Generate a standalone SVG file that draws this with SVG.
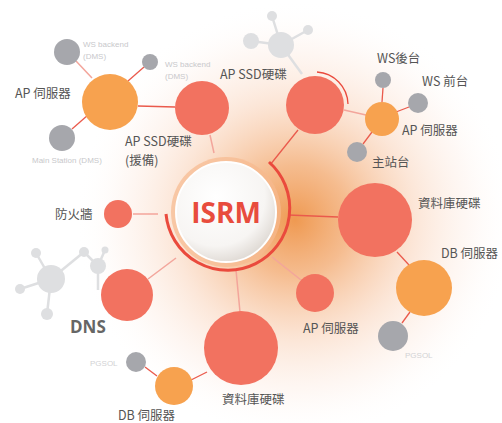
<svg xmlns="http://www.w3.org/2000/svg" width="502" height="423" viewBox="0 0 502 423">
<defs>
<radialGradient id="glow" cx="295" cy="220" r="220" gradientUnits="userSpaceOnUse">
<stop offset="0" stop-color="#ee9448" stop-opacity="0.95"/>
<stop offset="0.25" stop-color="#f2a66a" stop-opacity="0.75"/>
<stop offset="0.55" stop-color="#f8c8a8" stop-opacity="0.45"/>
<stop offset="0.8" stop-color="#fce6da" stop-opacity="0.25"/>
<stop offset="1" stop-color="#ffffff" stop-opacity="0"/>
</radialGradient>
<radialGradient id="core" cx="0.4" cy="0.35" r="0.7">
<stop offset="0" stop-color="#ffffff"/>
<stop offset="0.7" stop-color="#f7f5f3"/>
<stop offset="1" stop-color="#dcd6d0"/>
</radialGradient>
<style>
.red{fill:#f27260}
.org{fill:#f7a24f}
.gry{fill:#a6a7ac}
.ghost{fill:#dedfe1}
.ln{stroke:#ea5a4c;stroke-width:1.3;fill:none}
.lnl{stroke:#f3a59b;stroke-width:1.5;fill:none}
.lng{stroke:#dedfe1;stroke-width:2.5;fill:none}
.t{font-family:"Noto Sans CJK TC","Noto Sans",sans-serif;fill:#555;font-size:12.5px}
.tb{font-family:"Open Sans","Noto Sans",sans-serif;fill:#666;font-size:17px;font-weight:bold}
.ts{font-family:"Liberation Sans",sans-serif;fill:#c8c8cb;font-size:8px}
.tf{font-family:"Liberation Sans",sans-serif;fill:#d2d2d4;font-size:8px}
</style>
</defs>
<rect width="502" height="423" fill="#ffffff"/>
<circle cx="295" cy="220" r="220" fill="url(#glow)"/>

<g id="connectors">
<line class="lng" x1="281" y1="45" x2="302" y2="74"/>
<line class="lng" x1="281" y1="45" x2="272" y2="16"/>
<line class="lng" x1="281" y1="45" x2="308" y2="30"/>
<line class="lng" x1="281" y1="45" x2="251" y2="41"/>
<line class="ln" x1="298" y1="130" x2="270" y2="165"/>
<line class="lnl" x1="344" y1="110" x2="366" y2="115"/>
<line class="ln" x1="382" y1="102" x2="383" y2="88"/>
<line class="ln" x1="396" y1="112" x2="409" y2="107"/>
<line class="ln" x1="372" y1="132" x2="363" y2="144"/>
<line class="lnl" x1="210" y1="135" x2="214" y2="153"/>
<line class="ln" x1="138" y1="106" x2="175" y2="107"/>
<line class="lnl" x1="92" y1="78" x2="76" y2="61"/>
<line class="ln" x1="128" y1="81" x2="144" y2="67"/>
<line class="ln" x1="88" y1="115" x2="72" y2="129"/>
<line class="lnl" x1="133" y1="214" x2="158" y2="214"/>
<line class="lnl" x1="148" y1="279" x2="176" y2="258"/>
<line class="lng" x1="51" y1="279" x2="36" y2="253"/>
<line class="lng" x1="51" y1="279" x2="20" y2="289"/>
<line class="lng" x1="51" y1="279" x2="47" y2="314"/>
<line class="lng" x1="51" y1="279" x2="84" y2="252"/>
<line class="lng" x1="84" y1="252" x2="98" y2="266"/>
<line class="lng" x1="105" y1="250" x2="98" y2="266"/>
<line class="lng" x1="98" y1="266" x2="98" y2="290"/>
<line class="lnl" x1="236" y1="270" x2="240" y2="312"/>
<line class="ln" x1="191" y1="380" x2="207" y2="372"/>
<line class="ln" x1="145" y1="367" x2="157" y2="376"/>
<line class="ln" x1="288" y1="215" x2="338" y2="217"/>
<line class="ln" x1="397" y1="252" x2="409" y2="265"/>
<line class="ln" x1="410" y1="312" x2="402" y2="323"/>
<line class="lnl" x1="272" y1="257" x2="301" y2="280"/>
</g>

<g id="ghost-top">
<circle class="ghost" cx="281" cy="45" r="13"/>
<circle class="ghost" cx="272" cy="16" r="5"/>
<circle class="ghost" cx="308" cy="30" r="5"/>
<circle class="ghost" cx="251" cy="41" r="8"/>
</g>

<g id="ghost-left">
<circle class="ghost" cx="51" cy="279" r="14"/>
<circle class="ghost" cx="36" cy="253" r="5"/>
<circle class="ghost" cx="20" cy="289" r="5"/>
<circle class="ghost" cx="47" cy="314" r="6"/>
<circle class="ghost" cx="84" cy="252" r="5"/>
<circle class="ghost" cx="98" cy="266" r="8"/>
<circle class="ghost" cx="105" cy="250" r="3.5"/>
</g>

<g id="isrm">
<circle cx="226" cy="212" r="55" fill="#f6b98e" opacity="0.7"/>
<path d="M 269 162 A 62 62 0 1 1 166 214" fill="none" stroke="#ea4a3d" stroke-width="3"/>
<circle cx="226" cy="212" r="50" fill="url(#core)" stroke="#ffffff" stroke-width="2"/>
<text x="226" y="223" text-anchor="middle" font-family="'Open Sans','Noto Sans',sans-serif" font-size="28" font-weight="bold" fill="#e84c3d">ISRM</text>
</g>

<g id="ap-ssd">
<path d="M 317 72 A 33 33 0 0 1 348 104" fill="none" stroke="#ea4a3d" stroke-width="1.3"/>
<circle class="red" cx="315" cy="105" r="29"/>
<text class="t" x="220" y="79">AP SSD硬碟</text>
</g>

<g id="ap-server-right">
<circle class="org" cx="382" cy="119" r="17"/>
<text class="t" x="402" y="135">AP 伺服器</text>
</g>
<g id="ws-back"><circle class="gry" cx="383" cy="80" r="8"/><text class="t" x="377" y="63">WS後台</text></g>
<g id="ws-front"><circle class="gry" cx="418" cy="103" r="10"/><text class="t" x="422" y="86">WS 前台</text></g>
<g id="main-station"><circle class="gry" cx="357" cy="152" r="10"/><text class="t" x="372" y="167">主站台</text></g>

<g id="ap-ssd-backup">
<circle class="red" cx="202" cy="108" r="27"/>
<text class="t" x="125" y="146" font-size="12">AP SSD硬碟</text>
<text class="t" x="125" y="165" font-size="12">(援備)</text>
</g>

<g id="ap-server-left">
<circle class="org" cx="110" cy="102" r="28"/>
<text class="t" x="15" y="98">AP 伺服器</text>
</g>
<g id="ws-backend-1"><circle class="gry" cx="67" cy="52" r="13"/><text class="ts" x="83" y="47">WS backend</text><text class="ts" x="83" y="59">(DMS)</text></g>
<g id="ws-backend-2"><circle class="gry" cx="150" cy="62" r="8"/><text class="ts" x="165" y="67">WS backend</text><text class="ts" x="165" y="79">(DMS)</text></g>
<g id="main-station-dms"><circle class="gry" cx="62" cy="138" r="13"/><text class="ts" x="32" y="163">Main Station (DMS)</text></g>

<g id="firewall">
<circle class="red" cx="118" cy="214" r="14"/>
<text class="t" x="55" y="219">防火牆</text>
</g>

<g id="dns">
<circle class="red" cx="127" cy="295" r="26"/>
<text class="tb" x="70" y="333">DNS</text>
</g>

<g id="db-disk-bottom">
<circle class="red" cx="241" cy="348" r="37"/>
<text class="t" x="222" y="404" font-size="17.5">資料庫硬碟</text>
</g>
<g id="db-server-bottom">
<circle class="org" cx="174" cy="386" r="19"/>
<text class="t" x="118" y="420">DB 伺服器</text>
</g>
<g id="pgsol-bottom">
<circle class="gry" cx="136" cy="362" r="10"/>
<text class="tf" x="90" y="366">PGSOL</text>
</g>

<g id="db-disk-right">
<circle class="red" cx="375" cy="220" r="37"/>
<text class="t" x="418" y="208" font-size="13">資料庫硬碟</text>
</g>
<g id="db-server-right">
<circle class="org" cx="424" cy="288" r="28"/>
<text class="t" x="441" y="258">DB 伺服器</text>
</g>
<g id="pgsol-right">
<circle class="gry" cx="393" cy="336" r="15"/>
<text class="tf" x="405" y="358">PGSOL</text>
</g>

<g id="ap-server-bottom">
<circle class="red" cx="315" cy="293" r="19"/>
<text class="t" x="303" y="333">AP 伺服器</text>
</g>
</svg>
